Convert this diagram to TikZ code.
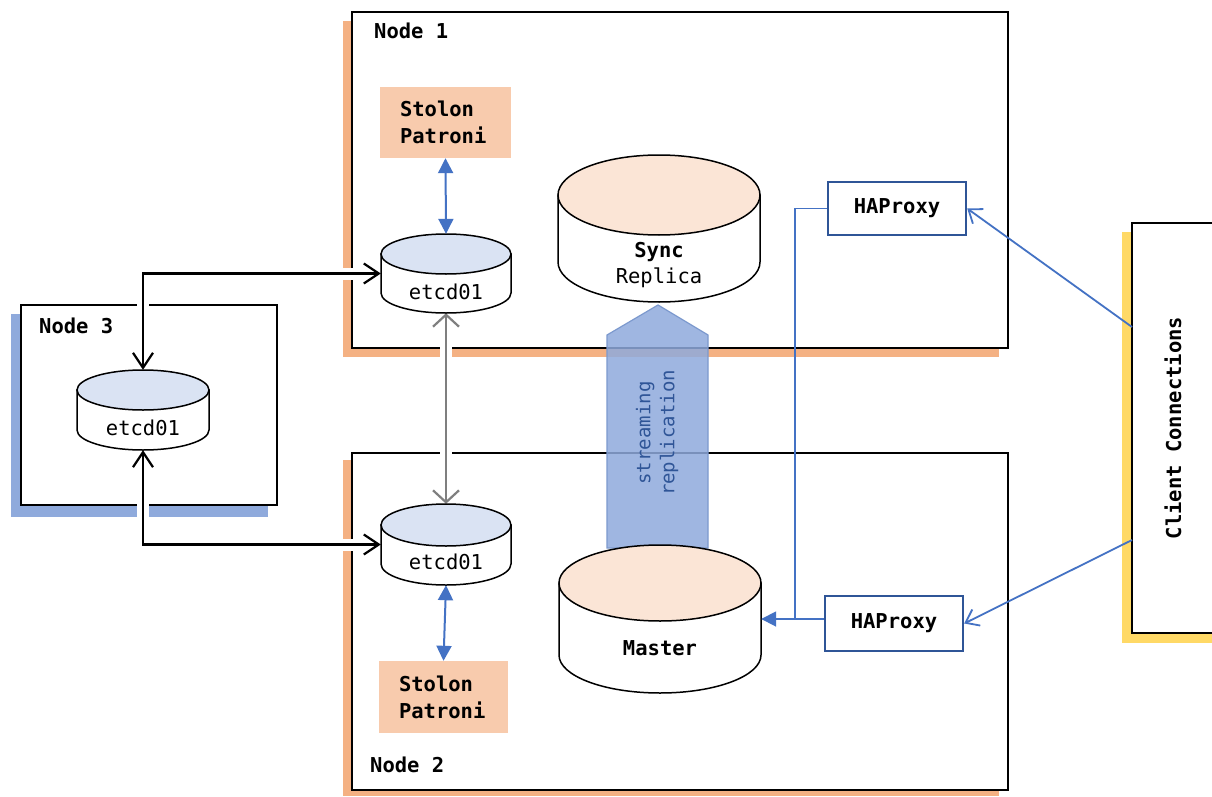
\documentclass[tikz,border=0pt]{standalone}
\usepackage{fontspec}
\setmonofont{DejaVu Sans Mono}
\usetikzlibrary{arrows.meta,calc}
\definecolor{shOrange}{HTML}{F4B183}
\definecolor{stolonFill}{HTML}{F8CBAD}
\definecolor{dbTop}{HTML}{FBE5D6}
\definecolor{etcdTop}{HTML}{DAE3F3}
\definecolor{shBlue}{HTML}{8FAADC}
\definecolor{shYellow}{HTML}{FFD966}
\definecolor{lineBlue}{HTML}{4472C4}
\definecolor{darkBlue}{HTML}{2F5597}
\definecolor{grayArrow}{HTML}{7F7F7F}
\newcommand\fsz{\fontsize{20.5}{27}\selectfont}
\newcommand\dbcyl[7]{%
  \path[draw=black, fill=white, line width=1.5pt] (#2-#5,#3+#6) -- (#2-#5,#4-#6)
    arc[start angle=180, end angle=360, x radius=#5pt, y radius=#6pt] -- (#2+#5,#3+#6) -- cycle;
  \path[draw=black, fill=#7, line width=1.5pt] (#2,#3+#6) ellipse[x radius=#5pt, y radius=#6pt];
  \node[inner sep=0, minimum width={2*#5pt}, minimum height={(#4-#3)*1pt}] (#1) at (#2,{(#3+#4)/2}) {};
}
\tikzset{
  txt/.style={font=\ttfamily\fsz, inner sep=0},
  btxt/.style={font=\ttfamily\bfseries\fsz, inner sep=0},
  nodebox/.style={draw=black, fill=white, line width=1.5pt, inner sep=0},
  stolonbox/.style={fill=stolonFill, minimum width=131pt, minimum height=71pt, text width=91pt,
    align=left, inner xsep=20pt, inner ysep=0, font=\ttfamily\bfseries\fsz},
  hapbox/.style={draw=darkBlue, fill=white, line width=2.4pt, minimum width=138pt, minimum height=53pt,
    inner sep=0, font=\ttfamily\bfseries\fsz},
  halo/.style={preaction={draw=white, line width=12pt, arrows=-}},
  bconn/.style={draw=black, line width=2.2pt, halo,
    arrows={Straight Barb[length=15pt,width=20pt]-Straight Barb[length=15pt,width=20pt]}},
  gconn/.style={draw=grayArrow, line width=2.2pt, halo,
    arrows={Straight Barb[length=12pt,width=26pt]-Straight Barb[length=12pt,width=26pt]}},
  sconn/.style={draw=lineBlue, line width=2pt,
    arrows={Triangle[length=15pt,width=15pt]-Triangle[length=15pt,width=15pt]}},
  cconn/.style={draw=lineBlue, line width=1.8pt, arrows={-Straight Barb[length=12pt,width=18pt]}},
  hconn/.style={draw=lineBlue, line width=1.8pt},
}
\begin{document}
\begin{tikzpicture}[x=1pt, y=-1pt]
\useasboundingbox (0,0) rectangle (1212,797);
\fill[white] (0,0) rectangle (1212,797);
\begin{scope}
\clip (0,0) rectangle (1212,797);
% shadows
\fill[shOrange] (343,21) rectangle (999,357);
\fill[shOrange] (343,460) rectangle (999,796);
\fill[shBlue] (11,314) rectangle (268,517);
\fill[shYellow] (1122,232) rectangle (1214,643);
% boxes
\node[nodebox, minimum width=656pt, minimum height=336pt] (node1) at (680,180) {};
\node[nodebox, minimum width=656pt, minimum height=337pt] (node2) at (680,621.5) {};
\node[nodebox, minimum width=256pt, minimum height=200pt] (node3) at (149,405) {};
\node[draw=black, fill=white, line width=2.2pt, inner sep=0, rotate=90,
      minimum width=410pt, minimum height=82pt, font=\ttfamily\bfseries\fsz] (client) at (1173,428) {Client Connections};
\end{scope}
% streaming replication arrow
\path[fill=shBlue, fill opacity=0.85, draw=shBlue!80!darkBlue, line width=1.2pt]
  (607,548) -- (607,335) -- (658,305) -- (708,335) -- (708,548) -- cycle;
\node[font=\ttfamily\fontsize{19}{24}\selectfont, text=darkBlue, rotate=90, align=center, inner sep=0]
  (strtext) at (657,433) {streaming\\replication};
% coordinates
\coordinate (cc1) at (1132,327);
\coordinate (cc2) at (1132,540);
\coordinate (junc) at (795,619);
% anchors for the cylinders (drawn after connectors)
\node[inner sep=0, minimum width=130pt, minimum height=79pt] (etcdA) at (446,273.5) {};
\node[inner sep=0, minimum width=130pt, minimum height=81pt] (etcdB) at (446,544.5) {};
\node[inner sep=0, minimum width=132pt, minimum height=80pt] (etcdC) at (143,410) {};
\node[inner sep=0, minimum width=202pt, minimum height=148pt] (master) at (660,619) {};
% connectors
\draw[bconn] (etcdC.north) |- (etcdA.west);
\draw[bconn] (etcdC.south) |- (etcdB.west);
\draw[gconn] (etcdA.south) -- (etcdB.north);
% cylinders
\dbcyl{etcdAc}{446}{234}{313}{65}{20}{etcdTop}
\dbcyl{etcdBc}{446}{504}{585}{65}{21}{etcdTop}
\dbcyl{etcdCc}{143}{370}{450}{66}{20}{etcdTop}
\dbcyl{sync}{659}{155}{302}{101}{40}{dbTop}
\dbcyl{masterc}{660}{545}{693}{101}{38}{dbTop}
% stolon boxes
\node[stolonbox] (stolonA) at (445.5,122.5) {Stolon\\Patroni};
\node[stolonbox, minimum width=129pt, minimum height=72pt, text width=89pt] (stolonB) at (443.5,697) {Stolon\\Patroni};
\draw[sconn] (stolonA.south) -- (etcdA.north);
\draw[sconn] (etcdB.south) -- (stolonB.north);
% haproxy
\node[hapbox] (hapT) at (897,208.5) {HAProxy};
\node[hapbox, minimum height=55pt] (hapB) at (894,623.5) {HAProxy};
\draw[hconn] (hapT.west) -| (junc);
\draw[hconn, arrows={-Triangle[length=15pt,width=15pt]}] (hapB.west |- master.east) -- (master.east);
\draw[cconn] (cc1) -- (hapT.east);
\draw[cconn] (cc2) -- (hapB.east);
% labels
\node[btxt, anchor=west] (lab1) at (374,31) {Node 1};
\node[btxt, anchor=west] (lab2) at (370,765) {Node 2};
\node[btxt, anchor=west] (lab3) at (39,326) {Node 3};
\node[txt] (tA) at (446,292) {etcd01};
\node[txt] (tB) at (446,562) {etcd01};
\node[txt] (tC) at (143,428) {etcd01};
\node[btxt] (tSync) at (659,252) {Sync};
\node[txt] (tRep) at (659,278) {Replica};
\node[btxt] (tMaster) at (660,648) {Master};
\end{tikzpicture}
\end{document}
